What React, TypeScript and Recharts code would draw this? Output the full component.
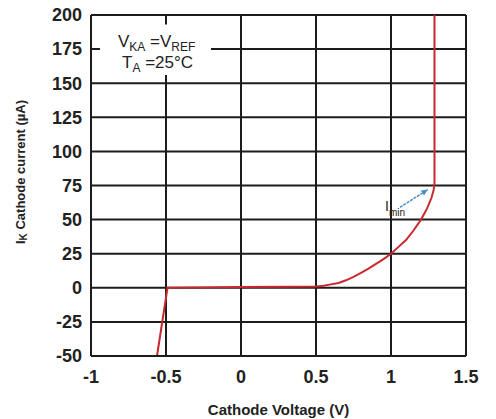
import {
  LineChart,
  Line,
  XAxis,
  YAxis,
  CartesianGrid,
  ReferenceArea,
  ReferenceLine,
  ReferenceDot,
} from "recharts";

const cathodeVoltage = [
  -0.56, -0.49, -0.3, 0, 0.3, 0.5, 0.55, 0.6, 0.65, 0.7, 0.75, 0.8, 0.85,
  0.9, 0.95, 1.0, 1.05, 1.1, 1.15, 1.2, 1.24, 1.27, 1.285, 1.29, 1.29,
];
const cathodeCurrent = [
  -50, 0, 0.3, 0.5, 0.8, 1, 1.5, 2.5, 3.5, 5.5, 8, 11, 14, 17.5, 21, 25, 30,
  35, 42, 50, 58, 66, 72, 77, 200,
];
const xTicks = [-1, -0.5, 0, 0.5, 1, 1.5];
const yTicks = [-50, -25, 0, 25, 50, 75, 100, 125, 150, 175, 200];

const data = cathodeVoltage.map((v, i) => ({ v, i: cathodeCurrent[i] }));

const FONT = "'Liberation Sans', Arial, sans-serif";
const GRID = "#1c1c1c";

function ArrowShape(props: any) {
  const { x1, y1, x2, y2 } = props;
  const ang = Math.atan2(y2 - y1, x2 - x1);
  const len = 7;
  const a1 = ang + Math.PI - 0.45;
  const a2 = ang + Math.PI + 0.45;
  const p = `${x2},${y2} ${x2 + len * Math.cos(a1)},${y2 + len * Math.sin(a1)} ${
    x2 + len * Math.cos(a2)
  },${y2 + len * Math.sin(a2)}`;
  return (
    <g>
      <line x1={x1} y1={y1} x2={x2} y2={y2} stroke="#4b8fc4" strokeWidth={1.5} strokeDasharray="3 1" />
      <polygon points={p} fill="#4b8fc4" />
    </g>
  );
}

function YLabel() {
  return (
    <text
      x={20}
      y={172}
      transform="rotate(-90 20 172)"
      textAnchor="middle"
      dominantBaseline="central"
      fontFamily={FONT}
      fontWeight="bold"
      fontSize={13}
      fill="#222"
    >
      I<tspan fontSize={10} dy={3}>K</tspan>
      <tspan dy={-3}> Cathode current (µA)</tspan>
    </text>
  );
}

function ConditionLabel(props: any) {
  const { viewBox } = props;
  const x = viewBox.x;
  const y = viewBox.y;
  return (
    <g fontFamily={FONT} fontSize={17} fill="#222">
      <text x={x + 18} y={y + 22}>
        V<tspan fontSize={12} dy={4}>KA</tspan>
        <tspan dy={-4}> =V</tspan>
        <tspan fontSize={12} dy={4}>REF</tspan>
      </text>
      <text x={x + 22} y={y + 43}>
        T<tspan fontSize={12} dy={4}>A</tspan>
        <tspan dy={-4}> =25°C</tspan>
      </text>
    </g>
  );
}

function IminLabel(props: any) {
  const { viewBox } = props;
  return (
    <text x={viewBox.x} y={viewBox.y} fontFamily={FONT} fontSize={14} fill="#222">
      I<tspan fontSize={10} dy={5}>min</tspan>
    </text>
  );
}

export default function App() {
  return (
    <div style={{ position: "absolute", left: 0, top: 0, background: "#fff" }}>
      <LineChart
        width={496}
        height={419}
        data={data}
        margin={{ top: 15, right: 30, left: 0, bottom: 0 }}
      >
        <CartesianGrid stroke={GRID} strokeWidth={2} strokeDasharray="" />
        <XAxis
          dataKey="v"
          type="number"
          domain={[-1, 1.5]}
          ticks={xTicks}
          height={63}
          tickLine={false}
          axisLine={{ stroke: GRID, strokeWidth: 2 }}
          tickMargin={8}
          tick={{ fontFamily: FONT, fontWeight: "bold", fontSize: 18, fill: "#222" }}
          label={{
            value: "Cathode Voltage (V)",
            position: "insideBottom",
            offset: 4,
            style: { fontFamily: FONT, fontWeight: "bold", fontSize: 15, fill: "#222" },
          }}
        />
        <YAxis
          type="number"
          domain={[-50, 200]}
          ticks={yTicks}
          width={91}
          tickLine={false}
          axisLine={{ stroke: GRID, strokeWidth: 2 }}
          tickMargin={3}
          tick={{ fontFamily: FONT, fontWeight: "bold", fontSize: 18, fill: "#222" }}
          label={<YLabel />}
        />
        <ReferenceArea
          x1={-0.94}
          x2={-0.2}
          y1={156}
          y2={193}
          fill="#fff"
          fillOpacity={1}
          stroke="none"
          label={<ConditionLabel />}
        />
        <Line
          dataKey="i"
          type="linear"
          stroke="#c8282e"
          strokeWidth={2}
          dot={false}
          isAnimationActive={false}
        />
        <ReferenceLine
          segment={[
            { x: 1.06, y: 59 },
            { x: 1.245, y: 72 },
          ]}
          shape={<ArrowShape />}
        />
        <ReferenceDot x={0.96} y={56} r={0} fill="none" stroke="none" label={<IminLabel />} />
      </LineChart>
    </div>
  );
}
